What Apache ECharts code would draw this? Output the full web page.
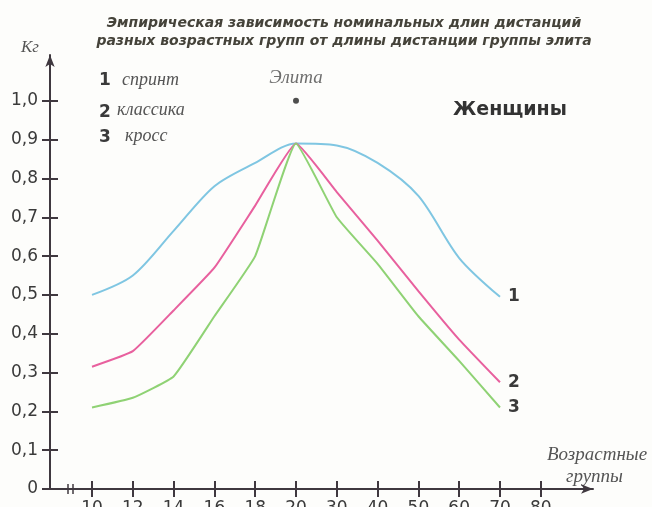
<!DOCTYPE html>
<html>
<head>
<meta charset="utf-8">
<script src="https://cdn.jsdelivr.net/npm/echarts@6/dist/echarts.min.js"></script>
<style>
html,body{margin:0;padding:0;background:#fdfdfb;}
#chart{width:652px;height:507px;}
</style>
</head>
<body>
<div id="chart"></div>
<script>
// Age-group categories (x tick labels)
var categories = ['10','12','14','16','18','20','30','40','50','60','70','80'];
// Series values (Кг), one per category up to 70
var sprint   = [0.50, 0.55, 0.665, 0.78, 0.84, 0.89, 0.885, 0.84, 0.755, 0.595, 0.495];
var classic  = [0.315, 0.355, 0.46, 0.57, 0.73, 0.89, 0.765, 0.64, 0.51, 0.385, 0.275];
var cross    = [0.21, 0.235, 0.29, 0.445, 0.60, 0.89, 0.70, 0.58, 0.445, 0.33, 0.21];
var seriesNames = ['1', '2', '3'];
var legendWords = ['спринт', 'классика', 'кросс'];
// Elite point
var eliteCategory = '20';
var eliteValue = 1.0;
// Y tick values
var yTicks = [0, 0.1, 0.2, 0.3, 0.4, 0.5, 0.6, 0.7, 0.8, 0.9, 1.0];

var chart = echarts.init(document.getElementById('chart'));
var xIdx = categories.map(function (c, i) { return i; });
function toPairs(arr) { return arr.map(function (v, i) { return [i, v]; }); }

var axisColor = '#3f383f';
var numFont = 'DejaVu Sans, Verdana, sans-serif';
var serifFont = 'Liberation Serif, Times New Roman, serif';

function yFmt(v) {
  if (Math.abs(v) < 1e-9) return '0';
  return v.toFixed(1).replace('.', ',');
}

function lineSeries(name, data, color, smooth) {
  return {
    type: 'line', name: name, data: toPairs(data),
    xAxisIndex: 0, yAxisIndex: 0,
    smooth: smooth, symbol: 'none',
    lineStyle: { color: color, width: 2 },
    endLabel: {
      show: true, formatter: name, distance: 8,
      color: '#3a3a3a', fontSize: 17, fontWeight: 'bold', fontFamily: numFont
    },
    z: 3
  };
}

var option = {
  backgroundColor: '#fdfdfb',
  animation: false,
  title: [{
    text: 'Эмпирическая зависимость номинальных длин дистанций\nразных возрастных групп от длины дистанции группы элита',
    left: 339, top: 9, textAlign: 'center',
    textStyle: { fontFamily: numFont, fontSize: 14, fontWeight: 'bold', fontStyle: 'italic', color: '#45433a', lineHeight: 18 }
  }, {
    text: 'Женщины', left: 448, top: 96,
    textStyle: { fontFamily: numFont, fontSize: 19, fontWeight: 'bold', color: '#333' }
  }],
  grid: { left: 50, right: 59, top: 55, bottom: 18, outerBoundsMode: 'none', containLabel: false },
  xAxis: [{
    type: 'value', min: -1.03, max: 12.28,
    axisLine: { show: true, onZero: false, lineStyle: { color: axisColor, width: 2 }, symbol: ['none', 'arrow'], symbolSize: [7, 12] },
    axisTick: { show: true, customValues: xIdx, length: 8, lineStyle: { color: axisColor, width: 2 } },
    axisLabel: {
      customValues: xIdx, margin: 11,
      formatter: function (v) { return categories[Math.round(v)] || ''; },
      color: '#3a3a3a', fontSize: 17, fontFamily: numFont
    },
    splitLine: { show: false }
  }, {
    type: 'value', min: -1.03, max: 12.28, position: 'bottom',
    axisLine: { show: false, onZero: false },
    axisTick: { show: true, inside: true, customValues: xIdx, length: 8, lineStyle: { color: axisColor, width: 2 } },
    axisLabel: { show: false },
    splitLine: { show: false }
  }],
  yAxis: [{
    type: 'value', min: 0, max: 1.118,
    axisLine: { show: true, onZero: false, lineStyle: { color: axisColor, width: 2 }, symbol: ['none', 'arrow'], symbolSize: [7, 12] },
    axisTick: { show: true, customValues: yTicks, length: 8, lineStyle: { color: axisColor, width: 2 } },
    axisLabel: {
      customValues: yTicks, margin: 12, formatter: yFmt,
      color: '#3a3a3a', fontSize: 17, fontFamily: numFont
    },
    splitLine: { show: false }
  }, {
    type: 'value', min: 0, max: 1.118, position: 'left',
    axisLine: { show: false, onZero: false },
    axisTick: { show: true, inside: true, customValues: yTicks, length: 8, lineStyle: { color: axisColor, width: 2 } },
    axisLabel: { show: false },
    splitLine: { show: false }
  }],
  series: [
    lineSeries(seriesNames[0], sprint, '#7fc6e2', 0.3),
    lineSeries(seriesNames[1], classic, '#e8609e', 0.12),
    lineSeries(seriesNames[2], cross, '#8fd274', 0.12),
    {
      type: 'scatter', name: 'Элита',
      data: [[categories.indexOf(eliteCategory), eliteValue]],
      symbolSize: 6, itemStyle: { color: '#222' },
      label: {
        show: true, position: 'top', distance: 10, formatter: 'Элита',
        fontFamily: serifFont, fontStyle: 'italic', fontSize: 19, color: '#4a4a4a'
      },
      z: 4
    }
  ],
  graphic: [
    { type: 'text', left: 21, top: 39, style: { text: 'Кг', font: 'italic 17px ' + serifFont, fill: '#555' } },
    // legend-like labels
    { type: 'text', left: 99, top: 72, style: { text: seriesNames[0], font: 'bold 17px ' + numFont, fill: '#3a3a3a' } },
    { type: 'text', left: 122, top: 71, style: { text: legendWords[0], font: 'italic 18px ' + serifFont, fill: '#555' } },
    { type: 'text', left: 99, top: 104, style: { text: seriesNames[1], font: 'bold 17px ' + numFont, fill: '#3a3a3a' } },
    { type: 'text', left: 117, top: 101, style: { text: legendWords[1], font: 'italic 18px ' + serifFont, fill: '#555' } },
    { type: 'text', left: 99, top: 129, style: { text: seriesNames[2], font: 'bold 17px ' + numFont, fill: '#3a3a3a' } },
    { type: 'text', left: 125, top: 127, style: { text: legendWords[2], font: 'italic 18px ' + serifFont, fill: '#555' } },
    // x axis title
    { type: 'text', left: 547, top: 445, style: { text: 'Возрастные', font: 'italic 19px ' + serifFont, fill: '#555' } },
    { type: 'text', left: 566, top: 467, style: { text: 'группы', font: 'italic 19px ' + serifFont, fill: '#555' } },
    // axis break mark
    { type: 'line', shape: { x1: 68, y1: 484, x2: 68, y2: 494 }, style: { stroke: axisColor, lineWidth: 1.5 } },
    { type: 'line', shape: { x1: 73, y1: 484, x2: 73, y2: 494 }, style: { stroke: axisColor, lineWidth: 1.5 } }
  ]
};
chart.setOption(option);
</script>
</body>
</html>
